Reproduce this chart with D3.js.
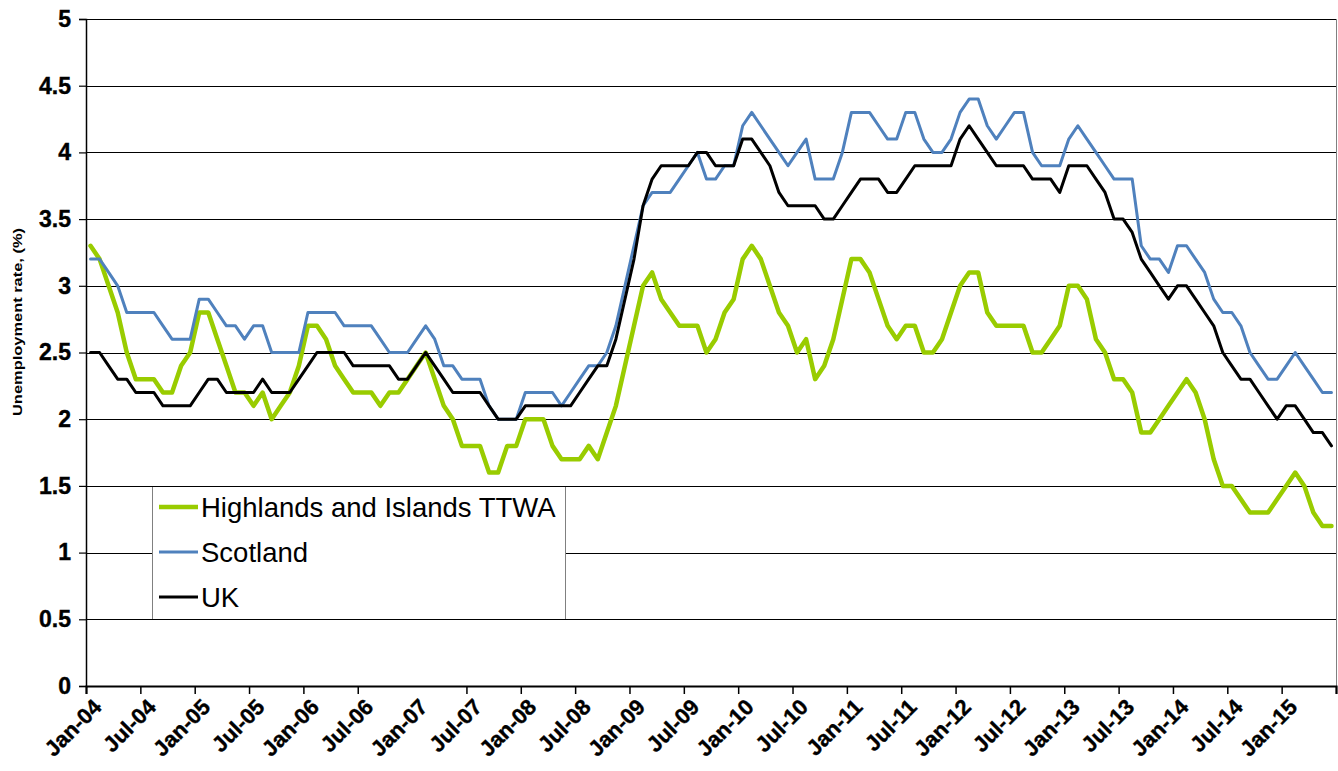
<!DOCTYPE html>
<html><head><meta charset="utf-8">
<script src="https://cdn.jsdelivr.net/npm/d3@7"></script>
<style>body{margin:0;background:#fff}svg{display:block}</style>
</head><body>
<svg id="chart" width="1338" height="771"></svg>
<script>
// Monthly categories Jan-04 .. Jun-15 (138 months)
const categoryStart = "2004-01";
const categoryCount = 138;
const tickLabels = ["Jan-04","Jul-04","Jan-05","Jul-05","Jan-06","Jul-06","Jan-07","Jul-07","Jan-08","Jul-08","Jan-09","Jul-09","Jan-10","Jul-10","Jan-11","Jul-11","Jan-12","Jul-12","Jan-13","Jul-13","Jan-14","Jul-14","Jan-15",""];
const yTicks = [0,0.5,1,1.5,2,2.5,3,3.5,4,4.5,5];
const seriesNames = ["Highlands and Islands TTWA","Scotland","UK"];

const highlands = [3.3,3.2,3.0,2.8,2.5,2.3,2.3,2.3,2.2,2.2,2.4,2.5,2.8,2.8,2.6,2.4,2.2,2.2,2.1,2.2,
2.0,2.1,2.2,2.4,2.7,2.7,2.6,2.4,2.3,2.2,2.2,2.2,2.1,2.2,2.2,2.3,2.4,2.5,2.3,2.1,
2.0,1.8,1.8,1.8,1.6,1.6,1.8,1.8,2.0,2.0,2.0,1.8,1.7,1.7,1.7,1.8,1.7,1.9,2.1,2.4,
2.7,3.0,3.1,2.9,2.8,2.7,2.7,2.7,2.5,2.6,2.8,2.9,3.2,3.3,3.2,3.0,2.8,2.7,2.5,2.6,
2.3,2.4,2.6,2.9,3.2,3.2,3.1,2.9,2.7,2.6,2.7,2.7,2.5,2.5,2.6,2.8,3.0,3.1,3.1,2.8,
2.7,2.7,2.7,2.7,2.5,2.5,2.6,2.7,3.0,3.0,2.9,2.6,2.5,2.3,2.3,2.2,1.9,1.9,2.0,2.1,
2.2,2.3,2.2,2.0,1.7,1.5,1.5,1.4,1.3,1.3,1.3,1.4,1.5,1.6,1.5,1.3,1.2,1.2];

const scotland = [3.2,3.2,3.1,3.0,2.8,2.8,2.8,2.8,2.7,2.6,2.6,2.6,2.9,2.9,2.8,2.7,2.7,2.6,2.7,2.7,
2.5,2.5,2.5,2.5,2.8,2.8,2.8,2.8,2.7,2.7,2.7,2.7,2.6,2.5,2.5,2.5,2.6,2.7,2.6,2.4,
2.4,2.3,2.3,2.3,2.1,2.0,2.0,2.0,2.2,2.2,2.2,2.2,2.1,2.2,2.3,2.4,2.4,2.5,2.7,3.0,
3.3,3.6,3.7,3.7,3.7,3.8,3.9,4.0,3.8,3.8,3.9,3.9,4.2,4.3,4.2,4.1,4.0,3.9,4.0,4.1,
3.8,3.8,3.8,4.0,4.3,4.3,4.3,4.2,4.1,4.1,4.3,4.3,4.1,4.0,4.0,4.1,4.3,4.4,4.4,4.2,
4.1,4.2,4.3,4.3,4.0,3.9,3.9,3.9,4.1,4.2,4.1,4.0,3.9,3.8,3.8,3.8,3.3,3.2,3.2,3.1,
3.3,3.3,3.2,3.1,2.9,2.8,2.8,2.7,2.5,2.4,2.3,2.3,2.4,2.5,2.4,2.3,2.2,2.2];

const uk = [2.5,2.5,2.4,2.3,2.3,2.2,2.2,2.2,2.1,2.1,2.1,2.1,2.2,2.3,2.3,2.2,2.2,2.2,2.2,2.3,
2.2,2.2,2.2,2.3,2.4,2.5,2.5,2.5,2.5,2.4,2.4,2.4,2.4,2.4,2.3,2.3,2.4,2.5,2.4,2.3,
2.2,2.2,2.2,2.2,2.1,2.0,2.0,2.0,2.1,2.1,2.1,2.1,2.1,2.1,2.2,2.3,2.4,2.4,2.6,2.9,
3.2,3.6,3.8,3.9,3.9,3.9,3.9,4.0,4.0,3.9,3.9,3.9,4.1,4.1,4.0,3.9,3.7,3.6,3.6,3.6,
3.6,3.5,3.5,3.6,3.7,3.8,3.8,3.8,3.7,3.7,3.8,3.9,3.9,3.9,3.9,3.9,4.1,4.2,4.1,4.0,
3.9,3.9,3.9,3.9,3.8,3.8,3.8,3.7,3.9,3.9,3.9,3.8,3.7,3.5,3.5,3.4,3.2,3.1,3.0,2.9,
3.0,3.0,2.9,2.8,2.7,2.5,2.4,2.3,2.3,2.2,2.1,2.0,2.1,2.1,2.0,1.9,1.9,1.8];

const FONT = "'Liberation Sans', Arial, Helvetica, sans-serif";
const svg = d3.select("#chart");
const L = 86, R = 1336, T = 19, B = 686;

const x = d3.scaleLinear().domain([0, categoryCount]).range([L, R]);
const y = d3.scaleLinear().domain([0, 5]).range([B, T]);

// gridlines
svg.append("g").selectAll("line").data(yTicks.filter(d => d > 0)).join("line")
  .attr("x1", L).attr("x2", R)
  .attr("y1", d => Math.round(y(d)) + 0.5).attr("y2", d => Math.round(y(d)) + 0.5)
  .attr("stroke", "#000").attr("stroke-width", 1);

// right plot border
svg.append("line").attr("x1", R + 0.5).attr("x2", R + 0.5).attr("y1", T).attr("y2", B)
  .attr("stroke", "#808080").attr("stroke-width", 1);

// y axis
const yAxis = svg.append("g").attr("transform", `translate(${L},0)`)
  .call(d3.axisLeft(y).tickValues(yTicks).tickSize(7).tickPadding(8).tickFormat(d => d));
yAxis.select(".domain").attr("stroke", "#000").attr("stroke-width", 1.5);
yAxis.selectAll(".tick line").attr("stroke", "#000").attr("stroke-width", 1.2);
yAxis.selectAll("text").attr("font-family", FONT).attr("font-size", 23).attr("font-weight", "bold")
  .attr("fill", "#000").attr("stroke", "#000").attr("stroke-width", 0.4);

// x axis
const tickIdx = d3.range(0, categoryCount + 1, 6);
const xAxis = svg.append("g").attr("transform", `translate(0,${B})`)
  .call(d3.axisBottom(x).tickValues(tickIdx).tickSize(8).tickFormat(() => ""));
xAxis.select(".domain").attr("stroke", "#000").attr("stroke-width", 2);
xAxis.selectAll(".tick line").attr("stroke", "#000").attr("stroke-width", 1.5)
  .attr("display", d => d === 36 ? "none" : null);
xAxis.selectAll(".tick").append("text")
  .text((d, i) => tickLabels[i])
  .attr("transform", "translate(11,17) rotate(-45)")
  .attr("text-anchor", "end").attr("dy", "0.35em")
  .attr("font-family", FONT).attr("font-size", 22).attr("font-weight", "bold")
  .attr("fill", "#000").attr("stroke", "#000").attr("stroke-width", 0.4);

// y title
svg.append("text").text("Unemployment rate, (%)")
  .attr("transform", `translate(22,322) rotate(-90)`)
  .attr("text-anchor", "middle")
  .attr("font-family", FONT).attr("font-size", 13.5).attr("font-weight", "bold")
  .attr("textLength", 188).attr("lengthAdjust", "spacingAndGlyphs");

// lines
const line = d3.line().x((d, i) => x(i + 0.5)).y(d => y(d)).curve(d3.curveLinear);
const series = [
  {name: seriesNames[0], values: highlands, color: "#99CC00", width: 4.5},
  {name: seriesNames[1], values: scotland, color: "#4F81BD", width: 3},
  {name: seriesNames[2], values: uk, color: "#000000", width: 3}
];
svg.append("g").selectAll("path").data(series).join("path")
  .attr("d", d => line(d.values)).attr("fill", "none")
  .attr("stroke", d => d.color).attr("stroke-width", d => d.width)
  .attr("stroke-linejoin", "round").attr("stroke-linecap", "round");

// legend
const lg = svg.append("g");
lg.append("rect").attr("x", 152.5).attr("y", 486.5).attr("width", 413).attr("height", 133)
  .attr("fill", "#fff").attr("stroke", "#808080").attr("stroke-width", 1);
lg.append("line").attr("x1", 152).attr("x2", 566).attr("y1", 486.5).attr("y2", 486.5).attr("stroke", "#000");
lg.append("line").attr("x1", 152).attr("x2", 566).attr("y1", 619.5).attr("y2", 619.5).attr("stroke", "#000");
const rows = [507, 552, 597];
series.forEach((s, i) => {
  lg.append("line").attr("x1", 159).attr("x2", 198).attr("y1", rows[i]).attr("y2", rows[i])
    .attr("stroke", s.color).attr("stroke-width", s.width);
  lg.append("text").text(s.name).attr("x", 201).attr("y", rows[i]).attr("dy", "0.36em")
    .attr("font-family", FONT).attr("font-size", 27.5).attr("fill", "#000");
});
</script>
</body></html>
